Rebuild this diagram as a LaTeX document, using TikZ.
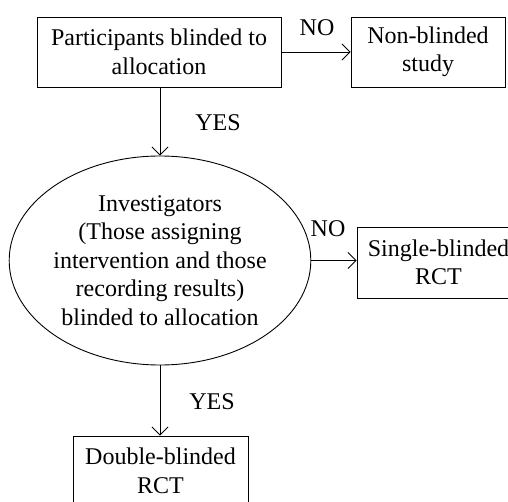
\documentclass[tikz,border=0pt]{standalone}
\usepackage{fontspec}
\setmainfont{Liberation Serif}
\usetikzlibrary{shapes.geometric,arrows.meta}
\begin{document}
\begin{tikzpicture}[x=1pt,y=-1pt,
  every node/.style={font=\fontsize{24}{28.5}\selectfont, align=center, inner sep=0pt},
  boxnode/.style={draw, line width=0.9pt, rectangle},
  ellnode/.style={draw, line width=0.9pt, ellipse},
  arr/.style={line width=0.9pt, -{Straight Barb[length=8pt,width=16pt,line width=0.9pt]}},
  lbl/.style={font=\fontsize{24}{28}\selectfont}]
\useasboundingbox (0,0) rectangle (508,502);
\clip (0,0) rectangle (508,502);
\node[boxnode, minimum width=244pt, minimum height=70pt] (b1) at (159,52) {Participants blinded to\\allocation};
\node[boxnode, minimum width=154pt, minimum height=70pt] (nb) at (428,52) {Non-blinded\\study};
\node[ellnode, minimum width=294pt, minimum height=209pt] (inv) at (160,260.5) {Investigators\\(Those assigning\\intervention and those\\recording results)\\blinded to allocation};
\node[boxnode, minimum width=163pt, minimum height=71pt] (sb) at (438.5,262.5) {Single-blinded\\RCT};
\node[boxnode, minimum width=175pt, minimum height=70pt] (db) at (160.5,471) {Double-blinded\\RCT};
\draw[arr] (b1.east) -- (nb.west);
\draw[arr] (b1.south -| inv.north) -- (inv.north);
\draw[arr] (inv.east) -- (sb.west |- inv.east);
\draw[arr] (inv.south) -- (inv.south |- db.north);
\node[lbl] (no1) at (317,28) {NO};
\node[lbl] (yes1) at (218,123) {YES};
\node[lbl] (no2) at (328,229) {NO};
\node[lbl] (yes2) at (212,402) {YES};
\end{tikzpicture}
\end{document}
